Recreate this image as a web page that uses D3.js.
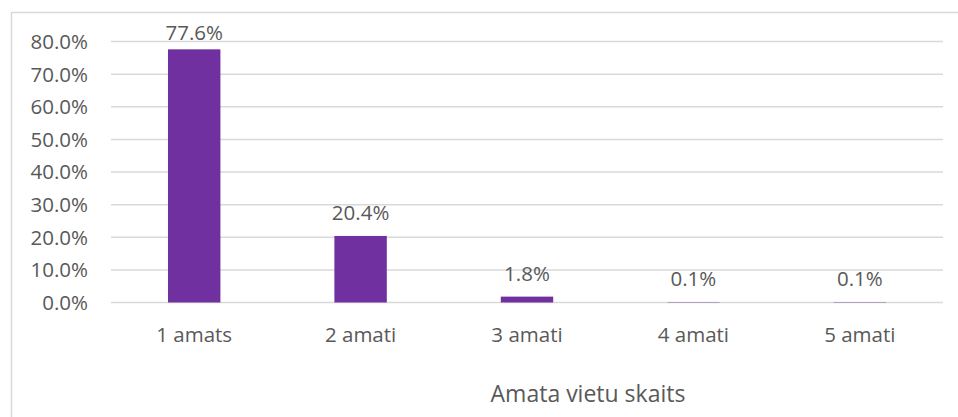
<!DOCTYPE html>
<html>
<head>
<meta charset="utf-8">
<script src="https://cdn.jsdelivr.net/npm/d3@7"></script>
<style>
  body { margin: 0; background: #fff; }
  text { font-family: 'Open Sans', sans-serif; fill: #595959; }
</style>
</head>
<body>
<script>
var categories = ['1 amats', '2 amati', '3 amati', '4 amati', '5 amati']
var values = [77.6, 20.4, 1.8, 0.1, 0.1]
var yTicks = [0, 10, 20, 30, 40, 50, 60, 70, 80]
var axisTitle = 'Amata vietu skaits'

var W = 958, H = 417
var margin = {top: 41.5, right: 15, bottom: 114.5, left: 111}
var width = W - margin.left - margin.right
var height = H - margin.top - margin.bottom

var svg = d3.select('body').append('svg')
  .attr('width', W)
  .attr('height', H)

// chart frame (only top and left visible in the crop)
svg.append('path')
  .attr('d', `M11.5,${H} V12.5 H${W}`)
  .attr('fill', 'none')
  .attr('stroke', '#d9d9d9')
  .attr('stroke-width', 1.5)

var g = svg.append('g')
  .attr('transform', `translate(${margin.left}, ${margin.top})`)

var x = d3.scaleBand().domain(categories).range([0, width])
var y = d3.scaleLinear().domain([0, 80]).range([height, 0])

// gridlines
g.selectAll('line.grid')
  .data(yTicks)
  .enter().append('line')
  .attr('class', 'grid')
  .attr('x1', 0)
  .attr('x2', width)
  .attr('y1', d => y(d))
  .attr('y2', d => y(d))
  .attr('stroke', '#d9d9d9')
  .attr('stroke-width', 1.5)

// y tick labels
g.selectAll('text.ytick')
  .data(yTicks)
  .enter().append('text')
  .attr('class', 'ytick')
  .attr('x', -23)
  .attr('y', d => y(d))
  .attr('dy', '0.36em')
  .attr('text-anchor', 'end')
  .attr('font-size', '20.5px')
  .text(d => d.toFixed(1) + '%')

var barW = x.bandwidth() * 0.315

g.selectAll('rect.bar')
  .data(values)
  .enter().append('rect')
  .attr('class', 'bar')
  .attr('x', (d, i) => x(categories[i]) + x.bandwidth() / 2 - barW / 2)
  .attr('y', d => y(d))
  .attr('width', barW)
  .attr('height', d => height - y(d))
  .attr('fill', '#7030a0')

// data labels (kept inside the plot area at the top)
g.selectAll('text.label')
  .data(values)
  .enter().append('text')
  .attr('class', 'label')
  .attr('x', (d, i) => x(categories[i]) + x.bandwidth() / 2)
  .attr('y', d => Math.max(y(d) - 16, -2))
  .attr('text-anchor', 'middle')
  .attr('font-size', '20.5px')
  .text(d => d.toFixed(1) + '%')

// category labels
g.selectAll('text.xtick')
  .data(categories)
  .enter().append('text')
  .attr('class', 'xtick')
  .attr('x', d => x(d) + x.bandwidth() / 2)
  .attr('y', height + 39.5)
  .attr('text-anchor', 'middle')
  .attr('font-size', '20.5px')
  .text(d => d)

svg.append('text')
  .attr('x', 588)
  .attr('y', 402)
  .attr('text-anchor', 'middle')
  .attr('font-size', '23px')
  .text(axisTitle)
</script>
</body>
</html>
